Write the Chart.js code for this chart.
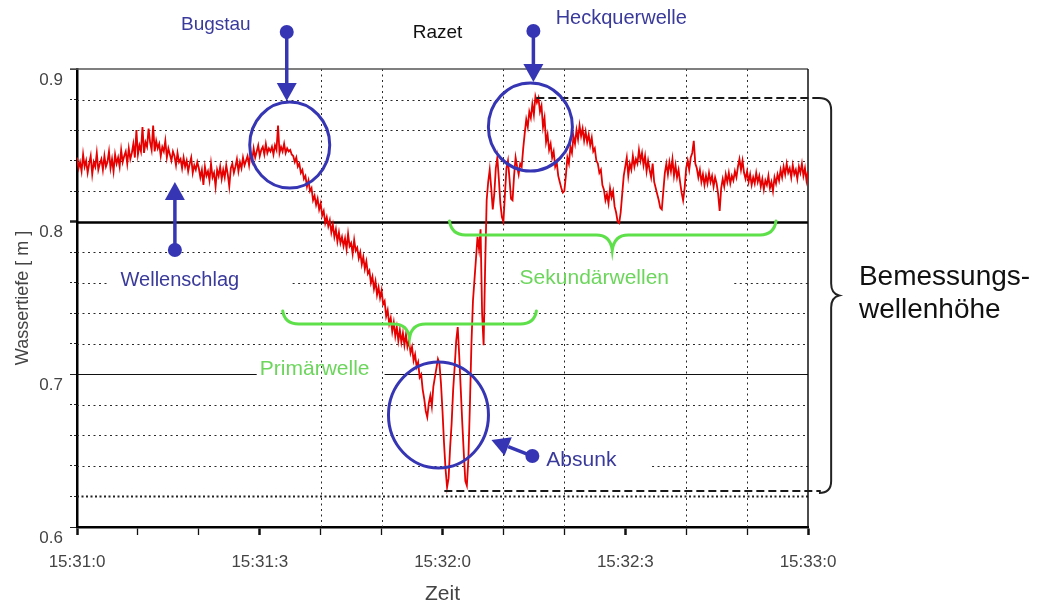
<!DOCTYPE html>
<html><head><meta charset="utf-8">
<script src="https://cdn.jsdelivr.net/npm/chart.js@4.4.1/dist/chart.umd.min.js"></script>
<style>html,body{margin:0;padding:0;background:#fff}canvas{display:block}</style>
</head><body>
<canvas id="c" width="1039" height="605"></canvas>
<script>
const FONT = '"Liberation Sans", Arial, sans-serif';

// ---- data -------------------------------------------------------------
const SAMPLE_STEP = 0.25;            // seconds between samples, starting 15:31:00
const depth = [                      // Wassertiefe [m], one row = 4 s
0.842,0.835,0.839,0.833,0.844,0.836,0.840,0.832,0.838,0.843,0.831,0.839,0.836,0.845,0.834,0.838,
0.841,0.834,0.843,0.836,0.839,0.846,0.835,0.841,0.833,0.844,0.838,0.842,0.836,0.847,0.839,0.843,
0.846,0.838,0.848,0.841,0.845,0.851,0.842,0.860,0.844,0.850,0.846,0.862,0.845,0.852,0.849,0.861,
0.852,0.847,0.863,0.846,0.853,0.848,0.851,0.843,0.849,0.846,0.853,0.842,0.848,0.844,0.840,0.846,
0.843,0.837,0.845,0.839,0.841,0.835,0.842,0.836,0.840,0.833,0.838,0.842,0.832,0.837,0.834,0.839,
0.835,0.829,0.834,0.824,0.836,0.830,0.833,0.827,0.838,0.829,0.832,0.823,0.834,0.830,0.836,0.828,
0.834,0.829,0.837,0.831,0.823,0.835,0.838,0.832,0.836,0.841,0.833,0.839,0.835,0.842,0.837,0.840,
0.843,0.837,0.845,0.840,0.848,0.842,0.846,0.850,0.843,0.847,0.849,0.844,0.851,0.845,0.848,0.846,
0.849,0.844,0.850,0.847,0.863,0.845,0.849,0.846,0.851,0.845,0.848,0.846,0.847,0.844,0.843,0.839,
0.842,0.836,0.838,0.832,0.834,0.828,0.830,0.823,0.827,0.820,0.822,0.814,0.817,0.811,0.815,0.808,
0.812,0.804,0.807,0.799,0.803,0.797,0.801,0.793,0.798,0.790,0.795,0.787,0.793,0.786,0.790,0.784,
0.789,0.782,0.792,0.784,0.786,0.779,0.788,0.781,0.783,0.776,0.780,0.772,0.777,0.769,0.774,0.766,
0.768,0.760,0.764,0.756,0.761,0.752,0.757,0.750,0.755,0.746,0.748,0.738,0.742,0.733,0.737,0.728,
0.734,0.725,0.731,0.722,0.729,0.721,0.727,0.719,0.726,0.718,0.722,0.714,0.718,0.709,0.713,0.705,
0.708,0.698,0.700,0.690,0.684,0.676,0.672,0.681,0.686,0.679,0.692,0.698,0.704,0.710,0.707,0.694,
0.676,0.655,0.638,0.626,0.632,0.652,0.668,0.690,0.705,0.722,0.731,0.712,0.690,0.668,0.648,0.630,
0.627,0.645,0.680,0.720,0.748,0.762,0.776,0.790,0.782,0.795,0.740,0.719,0.770,0.814,0.826,0.834,
0.822,0.808,0.818,0.835,0.842,0.828,0.812,0.803,0.800,0.818,0.835,0.840,0.828,0.815,0.814,0.830,
0.842,0.836,0.831,0.838,0.836,0.848,0.858,0.867,0.862,0.872,0.868,0.877,0.870,0.882,0.878,0.881,
0.872,0.876,0.862,0.868,0.852,0.857,0.847,0.851,0.842,0.846,0.836,0.839,0.830,0.826,0.822,0.819,
0.820,0.830,0.842,0.838,0.849,0.845,0.856,0.851,0.860,0.854,0.863,0.856,0.861,0.853,0.859,0.852,
0.857,0.850,0.855,0.846,0.848,0.840,0.838,0.832,0.834,0.824,0.821,0.814,0.818,0.812,0.822,0.816,
0.820,0.810,0.806,0.800,0.799,0.806,0.818,0.830,0.836,0.842,0.830,0.838,0.834,0.843,0.836,0.841,
0.838,0.847,0.840,0.845,0.837,0.843,0.833,0.840,0.834,0.829,0.838,0.826,0.822,0.818,0.814,0.809,
0.808,0.820,0.832,0.838,0.831,0.839,0.833,0.841,0.830,0.837,0.829,0.834,0.826,0.819,0.814,0.822,
0.835,0.840,0.834,0.842,0.845,0.853,0.838,0.835,0.829,0.834,0.826,0.831,0.824,0.830,0.825,0.832,
0.826,0.830,0.823,0.829,0.825,0.818,0.807,0.822,0.828,0.823,0.831,0.826,0.832,0.825,0.830,0.827,
0.833,0.829,0.836,0.841,0.834,0.840,0.832,0.828,0.833,0.826,0.831,0.824,0.829,0.825,0.832,0.826,
0.830,0.823,0.828,0.821,0.827,0.824,0.830,0.822,0.826,0.820,0.829,0.825,0.831,0.827,0.834,0.829,
0.836,0.831,0.838,0.832,0.835,0.829,0.837,0.831,0.834,0.828,0.836,0.832,0.838,0.830,0.835,0.827,
0.833
];
const timeLabels = ['15:31:0', '15:31:3', '15:32:0', '15:32:3', '15:33:0']; // every 30 s
const X_MIN = 0, X_MAX = 120, X_STEP = 10, X_LABEL_EVERY = 30;
const Y_MIN = 0.6, Y_MAX = 0.9, Y_STEP = 0.02;
const V_GRID = [40, 50, 70, 80, 100, 110];                 // dotted vertical gridlines
const H_GAPS = {76: [[4.9, 35.4], [72.6, 107.9]], 70: [[29.5, 50.5]], 64: [[73.8, 94.4]]};

const points = depth.map((v, i) => ({x: i * SAMPLE_STEP, y: v}));
const kOf = v => Math.round(v * 100);

// ---- helpers ------------------------------------------------------------
function segLine(ctx, x1, y1, x2, y2) { ctx.beginPath(); ctx.moveTo(x1, y1); ctx.lineTo(x2, y2); ctx.stroke(); }

const gridPlugin = {
  id: 'customGrid',
  beforeDatasetsDraw(chart) {
    const {ctx, chartArea: a, scales: {x, y}} = chart;
    ctx.save();
    ctx.strokeStyle = '#2a2a2a'; ctx.lineWidth = 1; ctx.setLineDash([2, 3.5]);
    V_GRID.forEach(t => {
      const px = Math.round(x.getPixelForValue(t)) + 0.5;
      segLine(ctx, px, a.top, px, a.bottom);
    });
    y.ticks.forEach(tk => {
      const k = kOf(tk.value);
      if (k === 90 || k === 60) return;
      const py = Math.round(y.getPixelForValue(tk.value)) + 0.5;
      let pieces = [[X_MIN, X_MAX]];
      (H_GAPS[k] || []).forEach(([g0, g1]) => {
        const np = [];
        pieces.forEach(([s0, s1]) => {
          if (g1 <= s0 || g0 >= s1) { np.push([s0, s1]); return; }
          if (g0 > s0) np.push([s0, g0]);
          if (g1 < s1) np.push([g1, s1]);
        });
        pieces = np;
      });
      if (k === 80) { ctx.setLineDash([]); ctx.lineWidth = 2.5; ctx.strokeStyle = '#000'; }
      else if (k === 70) { ctx.setLineDash([]); ctx.lineWidth = 1.2; ctx.strokeStyle = '#111'; }
      else if (k === 62) { ctx.setLineDash([2, 2.5]); ctx.lineWidth = 2; ctx.strokeStyle = '#222'; }
      else { ctx.setLineDash([2, 3.5]); ctx.lineWidth = 1; ctx.strokeStyle = '#2a2a2a'; }
      pieces.forEach(([s0, s1]) => segLine(ctx, x.getPixelForValue(s0), py, x.getPixelForValue(s1), py));
    });
    ctx.setLineDash([]);
    ctx.strokeStyle = '#555'; ctx.lineWidth = 1.5;
    segLine(ctx, a.left - 7, a.top, a.right, a.top);
    ctx.strokeStyle = '#111'; ctx.lineWidth = 1.5;
    segLine(ctx, a.right, a.top, a.right, a.bottom);
    ctx.restore();
  }
};

const annPlugin = {
  id: 'annotations',
  afterDatasetsDraw(chart) {
    const {ctx, scales: {x, y}} = chart;
    const X = t => x.getPixelForValue(t), Y = v => y.getPixelForValue(v);
    const BLUE = '#3636b4', BLUE_TXT = '#3a3a9c', GREEN = '#5ee04a', GREEN_TXT = '#6cd65c';
    ctx.save();

    ctx.strokeStyle = '#1a1a1a'; ctx.lineWidth = 2; ctx.setLineDash([8, 4]);
    segLine(ctx, X(75.4), Y(0.881), X(122.1), Y(0.881));
    segLine(ctx, X(60.3), Y(0.6236), X(122.1), Y(0.6236));
    ctx.setLineDash([]);

    ctx.strokeStyle = BLUE; ctx.lineWidth = 3;
    const ell = (t, v, rx, ry) => { ctx.beginPath(); ctx.ellipse(X(t), Y(v), rx, ry, 0, 0, Math.PI * 2); ctx.stroke(); };
    ell(34.92, 0.8502, 40, 43);
    ell(74.43, 0.8620, 42, 44);
    ell(59.34, 0.6734, 50, 53);

    const arrow = (t1, v1, t2, v2) => {
      const x1 = X(t1), y1 = Y(v1), x2 = X(t2), y2 = Y(v2);
      const ang = Math.atan2(y2 - y1, x2 - x1), hl = 18, hw = 10;
      const bx = x2 - hl * Math.cos(ang), by = y2 - hl * Math.sin(ang);
      ctx.strokeStyle = BLUE; ctx.fillStyle = BLUE; ctx.lineWidth = 3.5;
      segLine(ctx, x1, y1, bx, by);
      ctx.beginPath(); ctx.moveTo(x2, y2);
      ctx.lineTo(bx + hw * Math.sin(ang), by - hw * Math.cos(ang));
      ctx.lineTo(bx - hw * Math.sin(ang), by + hw * Math.cos(ang));
      ctx.closePath(); ctx.fill();
      ctx.beginPath(); ctx.arc(x1, y1, 7, 0, Math.PI * 2); ctx.fill();
    };
    arrow(34.43, 0.9242, 34.43, 0.8790);
    arrow(74.92, 0.9249, 74.92, 0.8915);
    arrow(16.07, 0.7814, 16.07, 0.8260);
    arrow(74.75, 0.6465, 68.03, 0.6570);

    const hBrace = (tL, tR, vEnd, vBar, tTip, vTip, r) => {
      const xL = X(tL), xR = X(tR), ye = Y(vEnd), yb = Y(vBar), xt = X(tTip), yt = Y(vTip);
      ctx.beginPath();
      ctx.moveTo(xL, ye);
      ctx.quadraticCurveTo(xL + 2, yb, xL + r, yb);
      ctx.lineTo(xt - r, yb);
      ctx.quadraticCurveTo(xt - 2, yb, xt, yt);
      ctx.quadraticCurveTo(xt + 2, yb, xt + r, yb);
      ctx.lineTo(xR - r, yb);
      ctx.quadraticCurveTo(xR - 2, yb, xR, ye);
      ctx.stroke();
    };
    ctx.strokeStyle = GREEN; ctx.lineWidth = 3; ctx.lineCap = 'round';
    hBrace(33.77, 75.41, 0.7415, 0.7330, 54.59, 0.7238, 16);
    hBrace(61.15, 114.75, 0.8004, 0.7913, 87.87, 0.7814, 16);

    const vBrace = (tEnd, tMid, tTip, vTop, vBot, r) => {
      const xe = X(tEnd), xm = X(tMid), xt = X(tTip), yT = Y(vTop), yB = Y(vBot), ym = (yT + yB) / 2;
      ctx.beginPath();
      ctx.moveTo(xe, yT);
      ctx.quadraticCurveTo(xm, yT, xm, yT + r);
      ctx.lineTo(xm, ym - r);
      ctx.quadraticCurveTo(xm, ym - 2, xt, ym);
      ctx.quadraticCurveTo(xm, ym + 2, xm, ym + r);
      ctx.lineTo(xm, yB - r);
      ctx.quadraticCurveTo(xm, yB, xe, yB);
      ctx.stroke();
    };
    ctx.strokeStyle = '#222'; ctx.lineWidth = 2; ctx.lineCap = 'butt';
    vBrace(121.8, 123.8, 125.1, 0.8810, 0.6223, 12);

    ctx.textBaseline = 'middle';
    const txt = (s, t, v, size, color, align) => {
      ctx.font = size + 'px ' + FONT; ctx.fillStyle = color; ctx.textAlign = align || 'center';
      ctx.fillText(s, X(t), Y(v));
    };
    txt('Bugstau', 22.79, 0.9288, 19, BLUE_TXT);
    txt('Razet', 59.18, 0.9236, 19, '#111');
    txt('Heckquerwelle', 89.34, 0.9334, 20, BLUE_TXT);
    txt('Wellenschlag', 16.89, 0.7618, 20, BLUE_TXT);
    txt('Absunk', 77.05, 0.6439, 21, BLUE_TXT, 'left');
    txt('Primärwelle', 39.02, 0.7035, 21, GREEN_TXT);
    txt('Sekundärwellen', 84.92, 0.7631, 21, GREEN_TXT);
    txt('Bemessungs-', 128.36, 0.7638, 28, '#111', 'left');
    txt('wellenhöhe', 128.36, 0.7421, 28, '#111', 'left');
    ctx.restore();
  }
};

new Chart(document.getElementById('c'), {
  type: 'line',
  data: {
    datasets: [{
      data: points,
      borderColor: '#e60000',
      borderWidth: 1.8,
      pointRadius: 0,
      tension: 0,
      fill: false
    }]
  },
  options: {
    responsive: false,
    animation: false,
    parsing: false,
    layout: {padding: {left: 0, top: 69, right: 231, bottom: 0}},
    plugins: {legend: {display: false}, tooltip: {enabled: false}},
    scales: {
      x: {
        type: 'linear', min: X_MIN, max: X_MAX,
        afterFit: s => { s.height = 78; },
        ticks: {
          stepSize: X_STEP, autoSkip: false, maxRotation: 0, padding: 17,
          color: '#444', font: {family: FONT, size: 17},
          callback: v => (Math.round(v) % X_LABEL_EVERY === 0) ? timeLabels[Math.round(v) / X_LABEL_EVERY] : ''
        },
        grid: {
          drawOnChartArea: false, drawTicks: true, tickLength: 8, tickColor: '#111',
          tickWidth: c => (c.tick && Math.round(c.tick.value) % X_LABEL_EVERY === 0) ? 2.5 : 1.3
        },
        border: {display: true, color: '#000', width: 2.5},
        title: {display: true, text: 'Zeit', color: '#444', font: {family: FONT, size: 21}, padding: {top: 0, bottom: -2}}
      },
      y: {
        min: Y_MIN, max: Y_MAX,
        afterFit: s => { s.width = 77; },
        ticks: {
          stepSize: Y_STEP, autoSkip: false, padding: 7, labelOffset: 11,
          color: '#444', font: {family: FONT, size: 17},
          callback: v => (kOf(v) % 10 === 0) ? v.toFixed(1) : ''
        },
        grid: {
          drawOnChartArea: false, drawTicks: true, tickLength: 7, tickColor: '#222',
          tickWidth: c => (c.tick && kOf(c.tick.value) === 80) ? 2.5 : 1,
          tickBorderDash: c => (c.tick && [90, 80, 70, 60].includes(kOf(c.tick.value))) ? [] : [2, 2]
        },
        border: {display: true, color: '#000', width: 2.5},
        title: {display: true, text: 'Wassertiefe [ m ]', color: '#444', font: {family: FONT, size: 18}, padding: {top: 12}}
      }
    }
  },
  plugins: [gridPlugin, annPlugin]
});
</script>
</body></html>
